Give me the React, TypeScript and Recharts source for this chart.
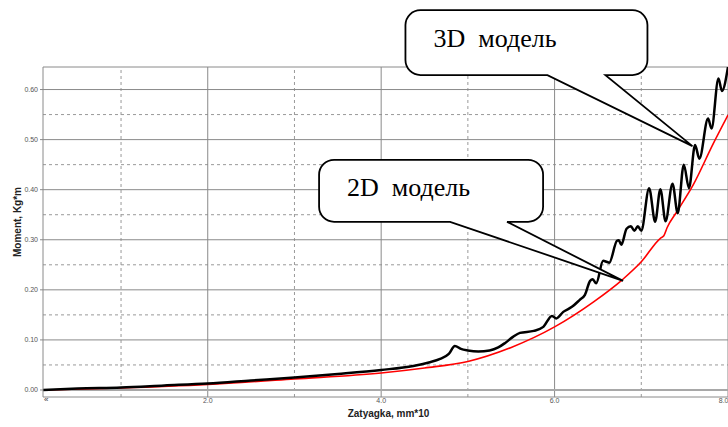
import React from 'react';
import { LineChart, Line, XAxis, YAxis, ReferenceLine, ReferenceDot } from 'recharts';

// Tightening (Zatyagka, mm*10) vs. moment (Kg*m), 3D model
const zatyagka3D = [
  0.1, 0.5, 1.0, 1.5, 2.0, 2.5, 3.0, 3.5, 4.0, 4.37, 4.55, 4.68, 4.78, 4.85, 4.92, 5.0,
  5.12, 5.25, 5.35, 5.43, 5.52, 5.6, 5.76, 5.87, 5.97, 6.02, 6.1, 6.2, 6.29, 6.35, 6.41,
  6.44, 6.48, 6.56, 6.6, 6.63, 6.72, 6.74, 6.77, 6.83, 6.88, 6.92, 6.96, 7.0, 7.09, 7.16,
  7.22, 7.28, 7.36, 7.42, 7.49, 7.55, 7.62, 7.67, 7.77, 7.81, 7.89, 7.93, 8.0,
];
const moment3D = [
  0.0, 0.003, 0.005, 0.009, 0.013, 0.019, 0.025, 0.032, 0.04, 0.048, 0.055, 0.062, 0.072, 0.088, 0.082, 0.079,
  0.077, 0.079, 0.085, 0.094, 0.106, 0.114, 0.118, 0.126, 0.148, 0.143, 0.156, 0.166, 0.18, 0.19, 0.218,
  0.221, 0.213, 0.258, 0.256, 0.254, 0.298, 0.299, 0.29, 0.322, 0.327, 0.318, 0.327, 0.318, 0.403, 0.336,
  0.401, 0.337, 0.412, 0.353, 0.45, 0.403, 0.489, 0.462, 0.542, 0.522, 0.622, 0.597, 0.645,
];

// Same quantities, 2D model
const zatyagka2D = [
  0.1, 1.0, 2.0, 3.0, 4.0, 4.5, 5.0, 5.5, 6.0, 6.45, 6.78, 7.0, 7.22, 7.26, 7.3, 7.41, 7.6, 7.83, 8.0,
];
const moment2D = [
  0.0, 0.004, 0.011, 0.022, 0.034, 0.044, 0.057, 0.085, 0.126, 0.176, 0.22, 0.256, 0.303, 0.308, 0.325, 0.356, 0.41, 0.492, 0.549,
];

// Axis ticks and grid
const xTicks = [2, 4, 6, 8];
const xMinorGrid = [1, 3, 5, 7];
const yTicks = [0, 0.1, 0.2, 0.3, 0.4, 0.5, 0.6];
const yMinorGrid = [0.05, 0.15, 0.25, 0.35, 0.45, 0.55];
const xDomain: [number, number] = [0.1, 8.0];
const yDomain: [number, number] = [-0.014, 0.645];

// Callout annotations: text and the point on the curve they point to
const calloutLabels = ['3D  модель', '2D  модель'];
const calloutX = [7.59, 6.79];
const calloutY = [0.487, 0.218];

// Callout geometry relative to the tip (pixels)
const calloutBoxes = [
  { left: -287, top: -136, right: -45, bottom: -71, tailL: -145, tailR: -87, tx: -259, ty: -99 },
  { left: -304, top: -121, right: -80, bottom: -59, tailL: -173, tailR: -116, tx: -276, ty: -85 },
];

const data3D = zatyagka3D.map((x, i) => ({ x, m: moment3D[i] }));
const data2D = zatyagka2D.map((x, i) => ({ x, m: moment2D[i] }));

const sans = '"Liberation Sans", Arial, sans-serif';
const serif = '"Liberation Serif", "Times New Roman", serif';

function calloutShape(idx: number) {
  return (props: any) => {
    const { cx, cy } = props;
    const b = calloutBoxes[idx];
    const r = 15;
    const L = cx + b.left;
    const T = cy + b.top;
    const R = cx + b.right;
    const B = cy + b.bottom;
    const d = [
      `M ${L + r} ${T}`,
      `H ${R - r}`,
      `A ${r} ${r} 0 0 1 ${R} ${T + r}`,
      `V ${B - r}`,
      `A ${r} ${r} 0 0 1 ${R - r} ${B}`,
      `H ${cx + b.tailR}`,
      `L ${cx} ${cy}`,
      `L ${cx + b.tailL} ${B}`,
      `H ${L + r}`,
      `A ${r} ${r} 0 0 1 ${L} ${B - r}`,
      `V ${T + r}`,
      `A ${r} ${r} 0 0 1 ${L + r} ${T}`,
      'Z',
    ].join(' ');
    return (
      <g>
        <path d={d} fill="#ffffff" stroke="#000000" strokeWidth={1.8} strokeLinejoin="miter" />
        <text
          x={cx + b.tx}
          y={cy + b.ty}
          fontFamily={serif}
          fontSize={26}
          fill="#000000"
          xmlSpace="preserve"
          style={{ whiteSpace: 'pre' }}
        >
          {calloutLabels[idx]}
        </text>
      </g>
    );
  };
}

const cornerMark = (props: any) => (
  <text x={props.cx + 1} y={props.cy + 5} fontFamily={sans} fontSize={8} fill="#333">
    «
  </text>
);

const yTitle = (props: any) => {
  const vb = props.viewBox || { x: 0, y: 0, width: 43, height: 330 };
  const x = vb.x + 21;
  const y = vb.y + vb.height / 2 - 10;
  return (
    <text
      x={x}
      y={y}
      transform={`rotate(-90 ${x} ${y})`}
      textAnchor="middle"
      fontFamily={sans}
      fontWeight="bold"
      fontSize={10}
      fill="#222"
    >
      Moment, Kg*m
    </text>
  );
};

const xTitle = (props: any) => {
  const vb = props.viewBox || { x: 43, y: 397, width: 685, height: 30 };
  return (
    <text
      x={vb.x + vb.width / 2 + 3}
      y={vb.y + 20}
      textAnchor="middle"
      fontFamily={sans}
      fontWeight="bold"
      fontSize={10}
      fill="#222"
    >
      Zatyagka, mm*10
    </text>
  );
};

export default function App() {
  return (
    <div style={{ position: 'fixed', left: 0, top: 0, width: 728, height: 427, background: '#fff' }}>
      <LineChart width={728} height={427} margin={{ top: 67, right: 0, bottom: 0, left: 0 }}>
        <XAxis
          type="number"
          dataKey="x"
          domain={xDomain}
          allowDataOverflow
          ticks={xTicks}
          tickFormatter={(v: number) => v.toFixed(1)}
          tick={{ fontSize: 7, fill: '#555', fontFamily: sans }}
          tickLine={false}
          tickSize={0}
          tickMargin={1}
          axisLine={{ stroke: '#8a8a8a' }}
          height={30}
          label={{ content: xTitle }}
        />
        <YAxis
          type="number"
          domain={yDomain}
          allowDataOverflow
          ticks={yTicks}
          tickFormatter={(v: number) => v.toFixed(2)}
          tick={{ fontSize: 7, fill: '#555', fontFamily: sans }}
          tickLine={{ stroke: '#8a8a8a' }}
          tickSize={3}
          tickMargin={2}
          axisLine={{ stroke: '#8a8a8a' }}
          width={43}
          label={{ content: yTitle }}
        />
        {xMinorGrid.map((v) => (
          <ReferenceLine key={`xm${v}`} x={v} stroke="#999" strokeDasharray="3 3" zIndex={-50} />
        ))}
        {yMinorGrid.map((v) => (
          <ReferenceLine key={`ym${v}`} y={v} stroke="#999" strokeDasharray="3 3" zIndex={-50} />
        ))}
        {xTicks.map((v) => (
          <ReferenceLine key={`xM${v}`} x={v} stroke="#8a8a8a" zIndex={-50} />
        ))}
        {yTicks.map((v) => (
          <ReferenceLine
            key={`yM${v}`}
            y={v}
            stroke={v === 0 ? '#a8a8a8' : '#8a8a8a'}
            strokeWidth={v === 0 ? 2 : 1}
            zIndex={-50}
          />
        ))}
        <ReferenceLine y={yDomain[1]} stroke="#8a8a8a" zIndex={-50} />
        <Line
          data={data2D}
          dataKey="m"
          type="monotone"
          stroke="#ff0000"
          strokeWidth={1.6}
          dot={false}
          activeDot={false}
          isAnimationActive={false}
        />
        <Line
          data={data3D}
          dataKey="m"
          type="monotone"
          stroke="#000000"
          strokeWidth={2.5}
          dot={false}
          activeDot={false}
          isAnimationActive={false}
        />
        <ReferenceDot
          x={xDomain[0]}
          y={yDomain[0]}
          ifOverflow="visible"
          shape={cornerMark}
          zIndex={3000}
        />
        {calloutLabels.map((lbl, i) => (
          <ReferenceDot
            key={lbl}
            x={calloutX[i]}
            y={calloutY[i]}
            ifOverflow="visible"
            shape={calloutShape(i)}
            zIndex={3000}
          />
        ))}
      </LineChart>
    </div>
  );
}
